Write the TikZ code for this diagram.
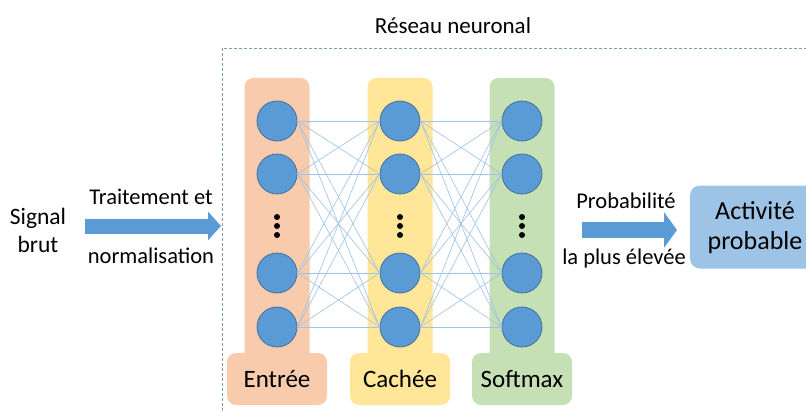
\documentclass[tikz,border=0pt]{standalone}
\usepackage{fontspec}
\setmainfont{Carlito}
\usetikzlibrary{arrows.meta,positioning}

\definecolor{neurone}{HTML}{5B9BD5}
\definecolor{neuronebord}{HTML}{41719C}
\definecolor{lien}{HTML}{9DC3E6}
\definecolor{coucheE}{HTML}{F8CBAD}
\definecolor{coucheC}{HTML}{FFE699}
\definecolor{coucheS}{HTML}{C5E0B4}
\definecolor{cadre}{HTML}{7F9DB9}
\definecolor{activite}{HTML}{9DC3E6}

\tikzset{
  neur/.style={circle, fill=neurone, draw=neuronebord, line width=0.8pt, minimum size=40pt, inner sep=0pt},
  colonne/.style={rounded corners=9pt, minimum width=65pt, minimum height=290pt, inner sep=0pt},
  etiq/.style={rounded corners=9pt, minimum width=100pt, minimum height=52pt, inner sep=0pt, font=\fontsize{25}{28}\selectfont},
  texte/.style={font=\fontsize{22.5}{26}\selectfont, inner sep=0pt},
  fleche/.style={draw=neurone, -{Triangle[length=12pt,width=30pt]}}
}

\begin{document}
\begin{tikzpicture}[x=1pt,y=-1pt]
  \clip (0,0) rectangle (806,412);
  \fill[white] (0,0) rectangle (806,412);

  % Cadre du reseau
  \draw[cadre, densely dashed, line width=0.8pt] (222,48) rectangle (840,440);
  \node[font=\fontsize{23}{26}\selectfont] (titre) at (453,26) {Réseau neuronal};

  % Colonnes
  \node[colonne, fill=coucheE] (colE) at (277,223) {};
  \node[colonne, fill=coucheC] (colC) at (400,223) {};
  \node[colonne, fill=coucheS] (colS) at (522,223) {};
  \node[etiq, fill=coucheE] (labE) at (277,379) {Entrée};
  \node[etiq, fill=coucheC] (labC) at (400,379) {Cachée};
  \node[etiq, fill=coucheS] (labS) at (522,379) {Softmax};

  % Neurones
  \foreach \n/\x in {e/277, c/400, s/522} {
    \foreach \i/\y in {1/121, 2/174, 3/273, 4/327} {
      \node[neur] (\n\i) at (\x,\y) {};
    }
    \foreach \y in {217,226,235}
      \fill[black] (\x,\y) circle (3pt);
  }

  % Liens
  \foreach \i in {1,...,4} {
    \foreach \j in {1,...,4} {
      \draw[lien, line width=0.6pt] (e\i.east) -- (c\j.west);
      \draw[lien, line width=0.6pt] (c\i.east) -- (s\j.west);
    }
  }

  % Entree
  \node[font=\fontsize{23.5}{27}\selectfont, align=center] (signal) at (38,230) {Signal\\[1pt]brut};
  \coordinate (a1) at (85,226);
  \coordinate (a2) at (221,226);
  \draw[fleche, line width=15pt, -{Triangle[length=13pt,width=28pt]}] (a1) -- (a2);
  \node[texte] (trait) at (151,197) {Traitement et};
  \node[texte] (norm) at (151,256) {normalisation};

  % Sortie
  \node[rounded corners=10pt, fill=activite, minimum width=150pt, minimum height=83pt, inner sep=0pt] (act) at (765,227) {};
  \node[font=\fontsize{26}{30}\selectfont, align=center] (acttxt) at (755,228) {Activité\\probable};
  \coordinate (b1) at (582,230);
  \coordinate (b2) at (677,230);
  \draw[fleche, line width=16pt, -{Triangle[length=13pt,width=35pt]}] (b1) -- (b2);
  \node[texte] (proba) at (626,201) {Probabilité};
  \node[texte] (elev) at (624,258) {la plus élevée};
\end{tikzpicture}
\end{document}
